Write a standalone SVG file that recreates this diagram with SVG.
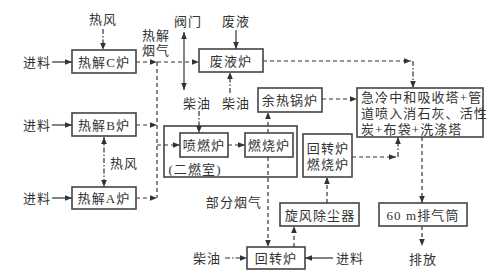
<svg xmlns="http://www.w3.org/2000/svg" width="502" height="279" viewBox="0 0 502 279">
<defs>
<marker id="ah" viewBox="0 0 10 8" refX="10" refY="4" markerWidth="7" markerHeight="5.6" markerUnits="userSpaceOnUse" orient="auto-start-reverse">
<path d="M0,0 L10,4 L0,8 Z" fill="#333"/>
</marker>
<style>
text{font-family:"Liberation Serif","Noto Sans CJK SC",serif;font-size:13px;fill:#333;letter-spacing:1.1px;text-anchor:middle;dominant-baseline:central}
.box{fill:#fff;stroke:#444;stroke-width:1.6}
.grp{fill:none;stroke:#444;stroke-width:1.6}
.c{fill:none;stroke:#333;stroke-width:1.2}
.d{stroke-dasharray:4 3}
.dd{stroke-dasharray:5 2 1.5 2}
.a{marker-end:url(#ah)}
.b{marker-start:url(#ah);marker-end:url(#ah)}
.lt{text-anchor:start}
</style>
</defs>
<rect width="502" height="279" fill="#fff"/>
<g id="erranshi"><rect class="grp" x="164" y="126" width="133" height="51"/><text x="195" y="169">(二燃室)</text></g>
<g id="connectors">
<line class="c a" x1="52" y1="62" x2="72" y2="62"/>
<line class="c a" x1="52" y1="125" x2="72" y2="125"/>
<line class="c a" x1="52" y1="198" x2="72" y2="198"/>
<line class="c dd a" x1="103" y1="29" x2="103" y2="50"/>
<line class="c dd b" x1="104" y1="137" x2="104" y2="187"/>
<line class="c d a" x1="136" y1="62" x2="157" y2="62"/>
<line class="c d a" x1="136" y1="125" x2="157" y2="125"/>
<line class="c d a" x1="136" y1="198" x2="157" y2="198"/>
<line class="c d" x1="157" y1="62" x2="157" y2="198"/>
<line class="c d a" x1="157" y1="62" x2="199" y2="62"/>
<line class="c d a" x1="157" y1="145" x2="180" y2="145"/>
<line class="c b" x1="184" y1="32" x2="184" y2="90"/>
<line class="c a" x1="236" y1="30" x2="236" y2="49"/>
<line class="c dd a" x1="230" y1="93" x2="230" y2="72"/>
<line class="c dd a" x1="199" y1="111" x2="199" y2="133"/>
<line class="c d a" x1="228" y1="145" x2="245" y2="145"/>
<line class="c d a" x1="268" y1="133" x2="268" y2="112"/>
<line class="c d a" x1="268" y1="157" x2="268" y2="247"/>
<line class="c d a" x1="263" y1="61" x2="411" y2="61"/>
<line class="c dd a" x1="413" y1="61" x2="413" y2="88"/>
<line class="c d a" x1="322" y1="99" x2="357" y2="99"/>
<line class="c d a" x1="352" y1="157" x2="396" y2="157"/>
<line class="c dd a" x1="398" y1="157" x2="398" y2="137"/>
<line class="c d a" x1="327" y1="203" x2="327" y2="177"/>
<line class="c d a" x1="294" y1="247" x2="294" y2="226"/>
<line class="c dd a" x1="225" y1="258" x2="247" y2="258"/>
<line class="c a" x1="333" y1="258" x2="305" y2="258"/>
<line class="c d a" x1="422" y1="137" x2="422" y2="203"/>
<line class="c d a" x1="422" y1="226" x2="422" y2="246"/>
</g>
<g id="label-rf1"><text x="103" y="19">热风</text></g>
<g id="label-jl1"><text x="37" y="62">进料</text></g>
<g id="label-jl2"><text x="37" y="125">进料</text></g>
<g id="label-jl3"><text x="37" y="198">进料</text></g>
<g id="label-rjyq"><text x="156" y="35">热解</text><text x="156" y="50">烟气</text></g>
<g id="label-fm"><text x="188" y="21">阀门</text></g>
<g id="label-fy"><text x="236" y="21">废液</text></g>
<g id="label-cy1"><text x="197" y="103">柴油</text></g>
<g id="label-cy2"><text x="236" y="103">柴油</text></g>
<g id="label-rf2"><text x="124" y="163">热风</text></g>
<g id="label-bfyq"><text x="234" y="202">部分烟气</text></g>
<g id="label-cy3"><text x="207" y="258">柴油</text></g>
<g id="label-jl4"><text x="350" y="258">进料</text></g>
<g id="label-pf"><text x="423" y="259">排放</text></g>
<g id="rjC"><rect class="box" x="72" y="50" width="64" height="23"/><text x="104" y="62">热解C炉</text></g>
<g id="rjB"><rect class="box" x="72" y="113" width="64" height="23"/><text x="104" y="125">热解B炉</text></g>
<g id="rjA"><rect class="box" x="72" y="187" width="64" height="22"/><text x="104" y="198">热解A炉</text></g>
<g id="fyl"><rect class="box" x="199" y="49" width="64" height="23"/><text x="231" y="61">废液炉</text></g>
<g id="yrgl"><rect class="box" x="258" y="88" width="64" height="24"/><text x="290" y="100">余热锅炉</text></g>
<g id="prl"><rect class="box" x="180" y="133" width="48" height="24"/><text x="204" y="145">喷燃炉</text></g>
<g id="rsl"><rect class="box" x="245" y="133" width="48" height="24"/><text x="269" y="145">燃烧炉</text></g>
<g id="jl"><rect class="box" x="357" y="88" width="126" height="49"/>
<text class="lt" x="361" y="97">急冷中和吸收塔+管</text>
<text class="lt" x="361" y="113">道喷入消石灰、活性</text>
<text class="lt" x="361" y="129">炭+布袋+洗涤塔</text></g>
<g id="hzlrsl"><rect class="box" x="303" y="134" width="49" height="43"/><text x="328" y="148">回转炉</text><text x="328" y="164">燃烧炉</text></g>
<g id="xfccq"><rect class="box" x="280" y="203" width="79" height="23"/><text x="320" y="215">旋风除尘器</text></g>
<g id="hzl"><rect class="box" x="247" y="247" width="58" height="22"/><text x="276" y="258">回转炉</text></g>
<g id="pqt"><rect class="box" x="379" y="203" width="88" height="23"/><text x="423" y="215">60 m排气筒</text></g>
</svg>
